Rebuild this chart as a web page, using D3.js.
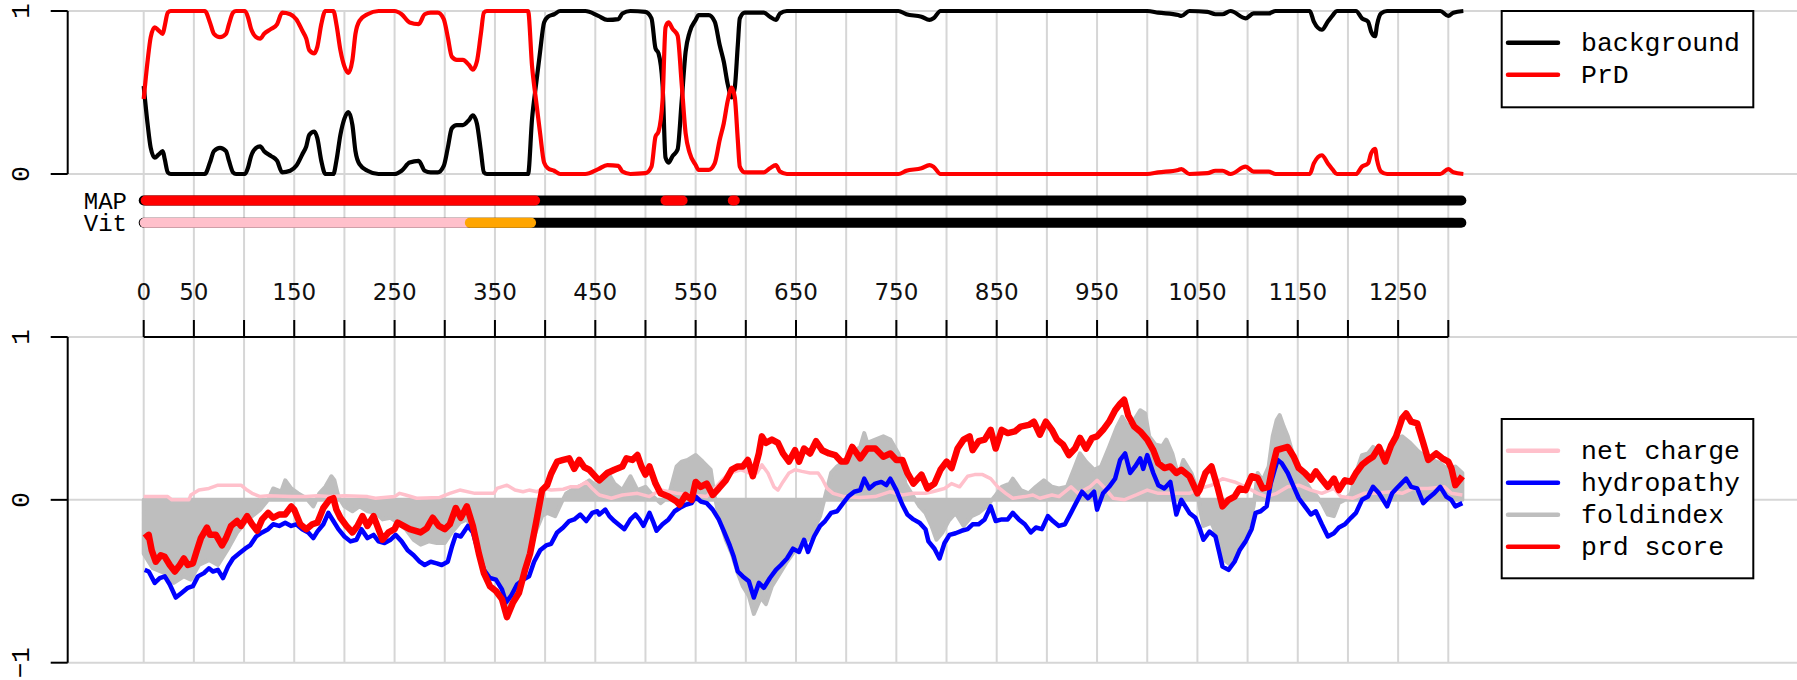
<!DOCTYPE html>
<html>
<head>
<meta charset="utf-8">
<script src="https://cdn.jsdelivr.net/npm/d3@7"></script>
<style>
  html, body { margin: 0; padding: 0; background: #fff; }
  svg { display: block; }
</style>
</head>
<body>
<svg id="chart" width="1797" height="680"></svg>
<script>
// ---------- DATA ----------
// top panel: per-residue state probability, [position, value]
const prdProbability = [[0,0.46],[4,0.7],[7,0.84],[11,0.90],[15,0.88],[19,0.86],[21,0.91],[24,0.99],[27,1.0],[61,1.0],[66,0.93],[70,0.86],[76,0.84],[82,0.86],[85,0.92],[89,0.99],[92,1.0],[101,1.0],[104,0.96],[107,0.89],[112,0.84],[116,0.83],[120,0.86],[127,0.89],[133,0.92],[138,0.99],[146,0.98],[152,0.95],[158,0.88],[162,0.83],[165,0.76],[170,0.74],[173,0.78],[177,0.92],[181,1.0],[189,1.0],[192,0.92],[196,0.76],[200,0.66],[204,0.62],[208,0.70],[211,0.86],[215,0.94],[223,0.98],[234,1.0],[250,1.0],[257,0.98],[265,0.93],[274,0.92],[280,0.98],[286,0.99],[293,0.99],[299,0.95],[303,0.84],[307,0.72],[312,0.70],[318,0.70],[324,0.67],[328,0.64],[332,0.69],[336,0.86],[339,0.99],[342,1.0],[383,1.0],[387,0.66],[391,0.45],[395,0.25],[399,0.07],[403,0.035],[409,0.02],[415,0.0],[440,0.0],[453,0.03],[462,0.055],[473,0.05],[477,0.015],[485,0.0],[500,0.005],[506,0.045],[510,0.23],[513,0.26],[517,0.45],[520,0.90],[523,0.93],[527,0.89],[532,0.85],[536,0.56],[540,0.25],[544,0.13],[550,0.055],[553,0.025],[563,0.025],[569,0.065],[574,0.21],[578,0.31],[582,0.45],[586,0.53],[589,0.47],[592,0.21],[594,0.045],[599,0.01],[618,0.01],[624,0.035],[630,0.055],[634,0.015],[641,0.0],[752,0.0],[760,0.02],[775,0.035],[783,0.055],[787,0.045],[794,0.0],[1000,0.0],[1011,0.01],[1031,0.025],[1034,0.03],[1042,0.0],[1060,0.005],[1068,0.02],[1075,0.02],[1083,0.0],[1098,0.045],[1106,0.015],[1121,0.015],[1128,0.0],[1162,0.0],[1166,0.065],[1174,0.115],[1180,0.065],[1185,0.025],[1189,0.0],[1208,0.0],[1214,0.045],[1220,0.065],[1223,0.125],[1227,0.155],[1229,0.085],[1233,0.015],[1239,0.0],[1292,0.0],[1300,0.03],[1305,0.01],[1315,0.0]];

const backgroundProbability = [[0,0.54],[4,0.3],[7,0.16],[11,0.10],[15,0.12],[19,0.14],[21,0.09],[24,0.01],[27,0.0],[61,0.0],[66,0.07],[70,0.14],[76,0.16],[82,0.14],[85,0.08],[89,0.01],[92,0.0],[101,0.0],[104,0.04],[107,0.11],[112,0.16],[116,0.17],[120,0.14],[127,0.11],[133,0.08],[138,0.01],[146,0.02],[152,0.05],[158,0.12],[162,0.17],[165,0.24],[170,0.26],[173,0.22],[177,0.08],[181,0.0],[189,0.0],[192,0.08],[196,0.24],[200,0.34],[204,0.38],[208,0.30],[211,0.14],[215,0.06],[223,0.02],[234,0.0],[250,0.0],[257,0.02],[265,0.07],[274,0.08],[280,0.02],[286,0.01],[293,0.01],[299,0.05],[303,0.16],[307,0.28],[312,0.30],[318,0.30],[324,0.33],[328,0.36],[332,0.31],[336,0.14],[339,0.01],[342,0.0],[383,0.0],[387,0.34],[391,0.55],[395,0.75],[399,0.93],[403,0.965],[409,0.98],[415,1.0],[440,1.0],[453,0.97],[462,0.945],[473,0.95],[477,0.985],[485,1.0],[500,0.995],[506,0.955],[510,0.77],[513,0.74],[517,0.55],[520,0.10],[523,0.07],[527,0.11],[532,0.15],[536,0.44],[540,0.75],[544,0.87],[550,0.945],[553,0.975],[563,0.975],[569,0.935],[574,0.79],[578,0.69],[582,0.55],[586,0.47],[589,0.53],[592,0.79],[594,0.955],[599,0.99],[618,0.99],[624,0.965],[630,0.945],[634,0.985],[641,1.0],[752,1.0],[760,0.98],[775,0.965],[783,0.945],[787,0.955],[794,1.0],[1000,1.0],[1011,0.99],[1031,0.975],[1034,0.97],[1042,1.0],[1060,0.995],[1068,0.98],[1075,0.98],[1083,1.0],[1098,0.955],[1106,0.985],[1121,0.985],[1128,1.0],[1162,1.0],[1166,0.935],[1174,0.885],[1180,0.935],[1185,0.975],[1189,1.0],[1208,1.0],[1214,0.955],[1220,0.935],[1223,0.875],[1227,0.845],[1229,0.915],[1233,0.985],[1239,1.0],[1292,1.0],[1300,0.97],[1305,0.99],[1315,1.0]];

// bottom panel scores, [position, value]
const netCharge = [[0,0.02],[24,0.02],[28,0.0],[45,0.0],[47,0.03],[55,0.06],[65,0.07],[74,0.09],[97,0.09],[103,0.06],[108,0.04],[116,0.02],[124,0.025],[147,0.02],[162,0.02],[173,0.025],[185,0.02],[200,0.025],[223,0.02],[231,0.01],[250,0.02],[255,0.04],[261,0.03],[272,0.01],[295,0.015],[305,0.04],[315,0.06],[330,0.04],[349,0.04],[352,0.07],[362,0.09],[370,0.06],[378,0.05],[384,0.06],[392,0.05],[399,0.07],[406,0.06],[418,0.065],[425,0.08],[433,0.08],[441,0.11],[447,0.07],[452,0.04],[454,0.03],[466,0.01],[477,0.03],[492,0.04],[504,0.02],[515,0.06],[531,0.04],[546,0.03],[561,0.02],[569,0.07],[576,0.12],[584,0.165],[595,0.185],[603,0.165],[611,0.165],[616,0.215],[622,0.165],[628,0.08],[632,0.06],[637,0.11],[643,0.165],[649,0.185],[656,0.175],[664,0.165],[672,0.165],[676,0.13],[681,0.07],[687,0.04],[698,0.02],[714,0.015],[729,0.02],[744,0.05],[756,0.03],[767,0.04],[779,0.04],[786,0.05],[798,0.07],[805,0.10],[813,0.08],[821,0.145],[828,0.155],[836,0.155],[844,0.13],[851,0.08],[859,0.04],[866,0.01],[878,0.02],[886,0.03],[893,0.01],[905,0.03],[912,0.02],[924,0.08],[931,0.04],[943,0.08],[950,0.12],[958,0.07],[966,0.01],[977,0.0],[989,0.03],[1000,0.06],[1011,0.04],[1027,0.04],[1042,0.04],[1052,0.07],[1064,0.09],[1075,0.13],[1087,0.11],[1098,0.08],[1110,0.04],[1119,0.02],[1129,0.04],[1140,0.08],[1151,0.09],[1163,0.06],[1174,0.04],[1186,0.07],[1193,0.02],[1205,0.01],[1216,0.04],[1227,0.04],[1243,0.05],[1254,0.04],[1265,0.07],[1280,0.07],[1296,0.08],[1303,0.04],[1314,0.03]];

const hydropathy = [[1,-0.43],[5,-0.44],[11,-0.51],[16,-0.48],[21,-0.47],[26,-0.52],[32,-0.60],[38,-0.57],[44,-0.54],[49,-0.53],[54,-0.47],[60,-0.45],[65,-0.42],[69,-0.44],[74,-0.43],[79,-0.48],[84,-0.41],[89,-0.36],[95,-0.33],[101,-0.30],[106,-0.28],[112,-0.225],[118,-0.20],[124,-0.18],[129,-0.15],[135,-0.16],[141,-0.14],[147,-0.16],[152,-0.15],[158,-0.18],[164,-0.20],[169,-0.235],[173,-0.195],[179,-0.15],[184,-0.08],[189,-0.13],[194,-0.18],[200,-0.225],[206,-0.255],[212,-0.245],[217,-0.18],[223,-0.235],[229,-0.215],[234,-0.255],[240,-0.265],[246,-0.245],[251,-0.215],[257,-0.255],[263,-0.31],[269,-0.34],[275,-0.38],[280,-0.40],[286,-0.38],[292,-0.39],[297,-0.40],[303,-0.38],[307,-0.29],[311,-0.215],[316,-0.225],[323,-0.16],[328,-0.20],[334,-0.33],[339,-0.43],[345,-0.48],[351,-0.49],[357,-0.55],[361,-0.63],[366,-0.59],[372,-0.52],[378,-0.49],[384,-0.47],[389,-0.38],[395,-0.31],[401,-0.28],[406,-0.27],[412,-0.20],[418,-0.17],[424,-0.13],[429,-0.12],[435,-0.09],[441,-0.13],[447,-0.08],[452,-0.07],[454,-0.09],[460,-0.06],[464,-0.10],[469,-0.13],[475,-0.16],[479,-0.18],[485,-0.12],[490,-0.09],[494,-0.12],[498,-0.16],[504,-0.08],[508,-0.14],[511,-0.19],[517,-0.15],[523,-0.12],[529,-0.07],[534,-0.05],[540,-0.03],[546,-0.02],[550,0.02],[555,-0.01],[561,-0.02],[567,-0.06],[573,-0.12],[578,-0.19],[584,-0.28],[588,-0.35],[592,-0.44],[597,-0.47],[603,-0.50],[608,-0.60],[613,-0.51],[618,-0.54],[624,-0.48],[630,-0.43],[635,-0.40],[641,-0.36],[647,-0.30],[653,-0.32],[658,-0.245],[662,-0.32],[668,-0.225],[674,-0.16],[679,-0.13],[685,-0.08],[691,-0.07],[697,-0.02],[702,0.02],[708,0.05],[714,0.06],[718,0.13],[723,0.07],[729,0.10],[735,0.11],[740,0.09],[744,0.13],[750,0.06],[756,-0.03],[761,-0.09],[767,-0.12],[773,-0.14],[779,-0.18],[782,-0.255],[788,-0.30],[793,-0.36],[798,-0.265],[803,-0.215],[809,-0.205],[815,-0.19],[821,-0.18],[826,-0.15],[832,-0.15],[838,-0.12],[844,-0.04],[849,-0.13],[855,-0.12],[861,-0.12],[866,-0.08],[872,-0.12],[878,-0.15],[884,-0.20],[889,-0.17],[895,-0.18],[901,-0.10],[906,-0.13],[912,-0.16],[918,-0.15],[924,-0.08],[929,-0.02],[935,0.05],[941,0.01],[947,0.05],[950,-0.06],[956,0.04],[962,0.08],[968,0.13],[973,0.245],[978,0.285],[983,0.165],[988,0.205],[993,0.255],[996,0.19],[1000,0.275],[1006,0.165],[1011,0.09],[1017,0.07],[1023,0.11],[1029,-0.09],[1034,0.0],[1042,-0.08],[1048,-0.11],[1052,-0.17],[1056,-0.245],[1062,-0.195],[1068,-0.225],[1072,-0.33],[1075,-0.41],[1081,-0.43],[1087,-0.38],[1092,-0.31],[1098,-0.255],[1104,-0.18],[1108,-0.08],[1113,-0.07],[1119,-0.04],[1123,0.10],[1127,0.185],[1130,0.245],[1134,0.225],[1140,0.165],[1146,0.08],[1151,0.01],[1157,-0.04],[1163,-0.09],[1168,-0.07],[1174,-0.15],[1180,-0.225],[1186,-0.205],[1191,-0.17],[1197,-0.15],[1203,-0.11],[1208,-0.08],[1214,0.0],[1220,0.02],[1225,0.08],[1231,0.04],[1239,-0.04],[1244,0.04],[1250,0.08],[1258,0.13],[1263,0.08],[1269,0.07],[1275,-0.02],[1280,0.01],[1286,0.04],[1292,0.08],[1298,0.02],[1303,0.0],[1307,-0.04],[1314,-0.02]];

const foldIndex = [[0,-0.33],[9,-0.42],[21,-0.45],[30,-0.51],[40,-0.47],[47,-0.49],[55,-0.40],[65,-0.37],[74,-0.40],[85,-0.29],[93,-0.20],[101,-0.14],[108,-0.10],[116,-0.06],[124,0.0],[129,0.07],[137,0.05],[141,0.12],[147,0.07],[154,0.04],[162,0.01],[169,-0.04],[175,0.04],[181,0.08],[187,0.145],[190,0.12],[194,0.02],[200,-0.04],[208,-0.07],[215,-0.04],[223,-0.07],[231,-0.08],[238,-0.12],[246,-0.11],[253,-0.14],[261,-0.18],[269,-0.245],[276,-0.275],[284,-0.255],[292,-0.265],[300,-0.265],[307,-0.20],[315,-0.14],[322,-0.12],[330,-0.20],[336,-0.34],[345,-0.45],[353,-0.49],[359,-0.57],[362,-0.65],[368,-0.61],[374,-0.53],[380,-0.39],[385,-0.29],[391,-0.19],[397,-0.10],[402,-0.08],[410,-0.10],[416,-0.02],[421,0.04],[429,0.07],[437,0.09],[444,0.12],[452,0.08],[454,0.12],[462,0.175],[469,0.10],[477,0.06],[485,0.145],[492,0.06],[500,0.08],[508,0.02],[515,-0.02],[523,0.02],[531,0.205],[536,0.235],[542,0.245],[550,0.275],[557,0.235],[565,0.185],[569,0.02],[574,-0.12],[580,-0.245],[586,-0.33],[592,-0.45],[597,-0.53],[603,-0.59],[608,-0.70],[615,-0.60],[620,-0.64],[626,-0.53],[634,-0.45],[641,-0.38],[649,-0.31],[656,-0.265],[662,-0.245],[668,-0.18],[674,-0.10],[679,0.02],[685,0.165],[691,0.205],[698,0.235],[706,0.285],[714,0.325],[718,0.41],[721,0.35],[729,0.37],[737,0.39],[744,0.37],[752,0.285],[756,0.205],[759,0.10],[767,0.02],[773,-0.04],[779,-0.08],[785,-0.16],[790,-0.245],[796,-0.20],[802,-0.13],[809,-0.08],[817,-0.16],[825,-0.10],[832,-0.08],[840,-0.04],[848,0.02],[855,0.08],[863,0.10],[866,0.13],[874,0.06],[882,0.04],[889,0.08],[897,0.12],[905,0.08],[912,0.07],[920,0.08],[928,0.205],[933,0.285],[939,0.235],[947,0.185],[954,0.205],[962,0.325],[970,0.45],[975,0.51],[981,0.45],[987,0.49],[993,0.55],[998,0.53],[1002,0.39],[1008,0.34],[1015,0.33],[1019,0.37],[1025,0.285],[1031,0.145],[1036,0.245],[1044,0.165],[1050,0.06],[1052,-0.04],[1056,-0.16],[1064,-0.14],[1072,-0.255],[1077,-0.37],[1083,-0.40],[1089,-0.35],[1094,-0.245],[1100,-0.18],[1106,-0.04],[1110,0.165],[1115,0.12],[1121,0.205],[1125,0.39],[1129,0.49],[1132,0.52],[1136,0.45],[1140,0.39],[1144,0.305],[1149,0.205],[1155,0.14],[1163,0.06],[1168,0.03],[1174,-0.02],[1180,-0.09],[1186,-0.10],[1191,-0.02],[1197,0.0],[1203,0.04],[1208,0.165],[1214,0.275],[1220,0.285],[1225,0.325],[1231,0.305],[1239,0.285],[1246,0.37],[1254,0.39],[1262,0.35],[1269,0.305],[1277,0.265],[1284,0.245],[1292,0.225],[1300,0.185],[1307,0.205],[1314,0.165]];

const prdScore = [[1,-0.235],[5,-0.215],[8,-0.31],[12,-0.38],[17,-0.34],[21,-0.35],[26,-0.40],[31,-0.44],[36,-0.40],[40,-0.36],[44,-0.40],[49,-0.39],[53,-0.31],[57,-0.235],[63,-0.17],[66,-0.215],[72,-0.215],[78,-0.28],[82,-0.235],[87,-0.16],[93,-0.13],[97,-0.16],[103,-0.10],[108,-0.15],[113,-0.19],[118,-0.12],[124,-0.08],[129,-0.11],[135,-0.09],[141,-0.09],[147,-0.04],[150,-0.06],[156,-0.15],[162,-0.18],[168,-0.15],[173,-0.14],[179,-0.05],[185,0.0],[189,0.01],[192,-0.06],[196,-0.11],[202,-0.16],[208,-0.20],[213,-0.16],[218,-0.10],[223,-0.16],[229,-0.10],[234,-0.18],[238,-0.245],[244,-0.20],[250,-0.18],[253,-0.14],[259,-0.16],[265,-0.18],[271,-0.19],[276,-0.20],[282,-0.175],[288,-0.11],[294,-0.16],[300,-0.18],[305,-0.15],[311,-0.05],[316,-0.11],[322,-0.04],[328,-0.16],[334,-0.33],[339,-0.45],[345,-0.53],[351,-0.56],[357,-0.61],[362,-0.72],[368,-0.63],[374,-0.57],[380,-0.43],[385,-0.33],[391,-0.14],[397,0.06],[402,0.09],[406,0.16],[412,0.235],[418,0.245],[424,0.255],[429,0.19],[434,0.245],[439,0.20],[444,0.185],[452,0.13],[454,0.12],[462,0.165],[469,0.185],[477,0.205],[481,0.255],[487,0.245],[492,0.275],[496,0.205],[500,0.155],[504,0.205],[510,0.10],[515,0.04],[523,0.02],[531,-0.01],[534,-0.03],[540,0.03],[546,0.0],[550,0.11],[555,0.08],[561,0.10],[567,0.03],[573,0.07],[580,0.12],[586,0.185],[592,0.205],[597,0.205],[602,0.245],[607,0.145],[613,0.285],[616,0.39],[620,0.35],[626,0.37],[632,0.35],[637,0.285],[643,0.235],[649,0.305],[653,0.235],[658,0.315],[664,0.285],[670,0.36],[676,0.305],[683,0.285],[689,0.275],[695,0.235],[700,0.235],[706,0.325],[714,0.255],[721,0.315],[729,0.315],[737,0.265],[744,0.285],[750,0.245],[756,0.245],[761,0.165],[767,0.10],[775,0.155],[781,0.07],[788,0.10],[794,0.185],[800,0.235],[805,0.195],[811,0.315],[817,0.37],[823,0.39],[826,0.305],[832,0.36],[838,0.37],[844,0.43],[849,0.315],[855,0.43],[861,0.41],[868,0.42],[874,0.45],[882,0.46],[887,0.48],[893,0.40],[899,0.48],[905,0.43],[910,0.37],[916,0.34],[922,0.275],[928,0.315],[933,0.38],[939,0.315],[945,0.38],[950,0.39],[956,0.43],[962,0.48],[968,0.55],[973,0.59],[977,0.615],[981,0.52],[987,0.45],[993,0.42],[1000,0.37],[1006,0.305],[1011,0.225],[1017,0.195],[1023,0.205],[1029,0.165],[1034,0.185],[1042,0.145],[1050,0.04],[1052,0.06],[1058,0.165],[1064,0.205],[1070,0.08],[1075,-0.04],[1081,0.0],[1087,0.02],[1092,0.07],[1098,0.06],[1104,0.145],[1110,0.135],[1115,0.07],[1121,0.08],[1125,0.205],[1129,0.305],[1134,0.315],[1140,0.325],[1146,0.265],[1151,0.195],[1157,0.165],[1163,0.125],[1168,0.175],[1174,0.125],[1180,0.08],[1186,0.13],[1191,0.06],[1197,0.12],[1203,0.11],[1208,0.165],[1214,0.215],[1220,0.245],[1225,0.265],[1231,0.325],[1237,0.235],[1243,0.335],[1248,0.39],[1254,0.50],[1258,0.53],[1263,0.48],[1269,0.47],[1275,0.35],[1280,0.245],[1288,0.285],[1294,0.255],[1300,0.235],[1303,0.195],[1307,0.09],[1311,0.12],[1314,0.145]];

// state tracks: [start, end, state]
const tracks = ["MAP", "Vit"];
const mapSegments = [[0,1313,"background"],[2,390,"PrD"],[520,537,"PrD"],[587,589,"PrD"]];
const vitSegments = [[0,1313,"background"],[1,322,"PrD"],[325,386,"other"]];

// axis ticks
const xTicks = d3.range(0, 1301, 50);
const xTickLabels = [0,50,150,250,350,450,550,650,750,850,950,1050,1150,1250];
const topYTicks = [0, 1];
const bottomYTicks = [-1, 0, 1];
const yTickText = {"-1": "\u22121", "0": "0", "1": "1"};

// legends
const topLegend = [["background", "#000000"], ["PrD", "#ff0000"]];
const bottomLegend = [["net charge", "#ffc0cb"], ["hydropathy", "#0000ff"], ["foldindex", "#bebebe"], ["prd score", "#ff0000"]];

// ---------- DRAW ----------
const svg = d3.select("#chart");
const W = 1797;
const MONO = "'Liberation Mono', 'DejaVu Sans Mono', monospace";
const SANS = "'DejaVu Sans', sans-serif";
const GRID = "#d6d6d6";

const x = d3.scaleLinear().domain([0, 1300]).range([143.7, 1448.3]);
const yTop = d3.scaleLinear().domain([0, 1]).range([174, 11]);
const yBot = d3.scaleLinear().domain([-1, 1]).range([662.7, 337]);
const yTrack = d3.scalePoint().domain(tracks).range([200.5, 222.7]);
const stateColor = d3.scaleOrdinal().domain(["background","PrD","other"]).range(["#000000","#ff0000","#ffa500"]);
const vitColor = d3.scaleOrdinal().domain(["background","PrD","other"]).range(["#000000","#ffc0cb","#ffa500"]);

const axisLeft = 67.7;

// gridlines
const grid = svg.append("g");
grid.selectAll("line.v").data(xTicks).join("line")
  .attr("x1", d => x(d)).attr("x2", d => x(d))
  .attr("y1", yTop(1)).attr("y2", yBot(-1))
  .attr("stroke", GRID).attr("stroke-width", 2);
const hLines = [yTop(0), yTop(1), yBot(-1), yBot(0), yBot(1)];
grid.selectAll("line.h").data(hLines).join("line")
  .attr("x1", axisLeft).attr("x2", W)
  .attr("y1", d => d).attr("y2", d => d)
  .attr("stroke", GRID).attr("stroke-width", 2);

// y axes (R style)
function yAxis(scale, ticks) {
  const g = svg.append("g");
  const [lo, hi] = d3.extent(ticks);
  g.append("line").attr("x1", axisLeft).attr("x2", axisLeft)
    .attr("y1", scale(lo)).attr("y2", scale(hi))
    .attr("stroke", "#000").attr("stroke-width", 2);
  g.selectAll("line.t").data(ticks).join("line")
    .attr("x1", axisLeft - 17).attr("x2", axisLeft)
    .attr("y1", d => scale(d)).attr("y2", d => scale(d))
    .attr("stroke", "#000").attr("stroke-width", 2);
  g.selectAll("text").data(ticks).join("text")
    .attr("transform", d => `translate(29,${scale(d)}) rotate(-90)`)
    .attr("text-anchor", "middle")
    .attr("font-family", MONO).attr("font-size", 26)
    .attr("fill", "#000")
    .text(d => yTickText[String(d)]);
}
yAxis(yTop, topYTicks);
yAxis(yBot, bottomYTicks);

// x axis in the middle (ticks pointing up)
const xa = svg.append("g");
const xAxisY = yBot(1);
xa.append("line").attr("x1", x(0)).attr("x2", x(1300))
  .attr("y1", xAxisY).attr("y2", xAxisY)
  .attr("stroke", "#000").attr("stroke-width", 2);
xa.selectAll("line.t").data(xTicks).join("line")
  .attr("x1", d => x(d)).attr("x2", d => x(d))
  .attr("y1", xAxisY - 17).attr("y2", xAxisY)
  .attr("stroke", "#000").attr("stroke-width", 2);
xa.selectAll("text").data(xTickLabels).join("text")
  .attr("x", d => x(d)).attr("y", 299.5)
  .attr("text-anchor", "middle")
  .attr("font-family", SANS).attr("font-size", 23)
  .attr("fill", "#111")
  .text(d => d);

// top panel lines
const lineTop = d3.line().x(d => x(d[0])).y(d => yTop(d[1])).curve(d3.curveMonotoneX);
svg.append("path").datum(backgroundProbability)
  .attr("d", lineTop).attr("fill", "none")
  .attr("stroke", "#000").attr("stroke-width", 4.2).attr("stroke-linejoin", "round");
svg.append("path").datum(prdProbability)
  .attr("d", lineTop).attr("fill", "none")
  .attr("stroke", "#ff0000").attr("stroke-width", 4.2).attr("stroke-linejoin", "round");

// state tracks
function drawTrack(segs, name, colorScale) {
  svg.append("g").selectAll("line").data(segs).join("line")
    .attr("x1", d => x(d[0])).attr("x2", d => x(d[1]))
    .attr("y1", yTrack(name)).attr("y2", yTrack(name))
    .attr("stroke", d => colorScale(d[2]))
    .attr("stroke-width", 10).attr("stroke-linecap", "round");
}
drawTrack(mapSegments, "MAP", stateColor);
drawTrack(vitSegments, "Vit", vitColor);
svg.append("g").selectAll("text").data(tracks).join("text")
  .attr("x", 127).attr("y", d => yTrack(d) + 8)
  .attr("text-anchor", "end")
  .attr("font-family", MONO).attr("font-size", 24)
  .attr("fill", "#000")
  .text(d => d);

// bottom panel
const area = d3.area().x(d => x(d[0])).y0(yBot(0)).y1(d => yBot(d[1]));
svg.append("path").datum(foldIndex)
  .attr("d", area).attr("fill", "#bebebe")
  .attr("stroke", "#bebebe").attr("stroke-width", 4).attr("stroke-linejoin", "round");
const lineBot = d3.line().x(d => x(d[0])).y(d => yBot(d[1]));
svg.append("path").datum(netCharge)
  .attr("d", lineBot).attr("fill", "none")
  .attr("stroke", "#ffc0cb").attr("stroke-width", 3.5).attr("stroke-linejoin", "round");
svg.append("path").datum(hydropathy)
  .attr("d", lineBot).attr("fill", "none")
  .attr("stroke", "#0000ff").attr("stroke-width", 4.5).attr("stroke-linejoin", "round");
svg.append("path").datum(prdScore)
  .attr("d", lineBot).attr("fill", "none")
  .attr("stroke", "#ff0000").attr("stroke-width", 6.5).attr("stroke-linejoin", "round");

// legends
function legend(items, top, bottom) {
  const g = svg.append("g");
  g.append("rect").attr("x", 1501.7).attr("y", top)
    .attr("width", 1753.3 - 1501.7).attr("height", bottom - top)
    .attr("fill", "#fff").attr("stroke", "#000").attr("stroke-width", 2);
  const first = top + 31.7;
  const ly = d3.scaleLinear().domain([0, 1]).range([first, first + 32]);
  g.selectAll("line").data(items).join("line")
    .attr("x1", 1508).attr("x2", 1558)
    .attr("y1", (d, i) => ly(i)).attr("y2", (d, i) => ly(i))
    .attr("stroke", d => d[1]).attr("stroke-width", 4.5).attr("stroke-linecap", "round");
  g.selectAll("text").data(items).join("text")
    .attr("x", 1581).attr("y", (d, i) => ly(i) + 8)
    .attr("font-family", MONO).attr("font-size", 26.5)
    .attr("fill", "#000")
    .text(d => d[0]);
}
legend(topLegend, 11, 107.3);
legend(bottomLegend, 419, 578.3);
</script>
</body>
</html>
